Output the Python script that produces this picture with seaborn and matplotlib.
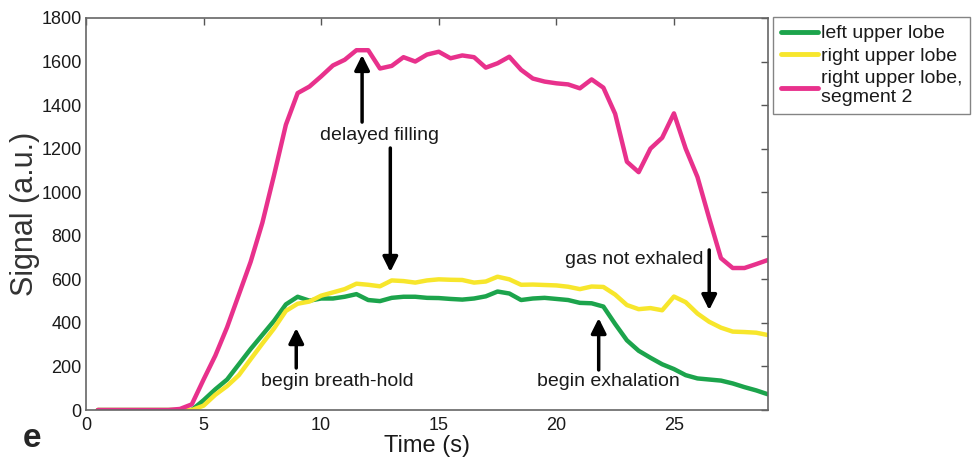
import matplotlib
matplotlib.use("Agg")
import matplotlib.pyplot as plt
import numpy as np
import pandas as pd
import seaborn as sns

# time axis (s)
time_s = [0.5, 1.0, 1.5, 2.0, 2.5, 3.0, 3.5, 4.0, 4.5, 5.0,
          5.5, 6.0, 6.5, 7.0, 7.5, 8.0, 8.5, 9.0, 9.5, 10.0,
          10.5, 11.0, 11.5, 12.0, 12.5, 13.0, 13.5, 14.0, 14.5, 15.0,
          15.5, 16.0, 16.5, 17.0, 17.5, 18.0, 18.5, 19.0, 19.5, 20.0,
          20.5, 21.0, 21.5, 22.0, 22.5, 23.0, 23.5, 24.0, 24.5, 25.0,
          25.5, 26.0, 26.5, 27.0, 27.5, 28.0, 28.5, 29.0]

left_upper = [0, 0, 0, 0, 0, 0, 0, 0, 0, 45,
              95, 140, 210, 280, 345, 410, 485, 520, 502, 512,
              512, 520, 532, 505, 500, 515, 520, 520, 515, 514,
              510, 507, 512, 522, 544, 535, 505, 512, 515, 510,
              505, 492, 490, 475, 395, 320, 272, 240, 210, 188,
              160, 145, 140, 135, 122, 105, 90, 72]

right_upper = [0, 0, 0, 0, 0, 0, 0, 0, 0, 20,
               70, 110, 160, 233, 305, 375, 455, 488, 498, 525,
               540, 555, 580, 575, 568, 595, 592, 585, 595, 600,
               598, 597, 585, 590, 612, 600, 575, 576, 574, 572,
               566, 555, 567, 565, 530, 482, 463, 468, 458, 521,
               495, 443, 405, 378, 360, 358, 355, 344]

right_upper_seg2 = [0, 0, 0, 0, 0, 0, 0, 5, 26, 140,
                    250, 380, 530, 680, 860, 1080, 1310, 1455, 1485, 1532,
                    1582, 1608, 1652, 1652, 1568, 1580, 1620, 1600, 1632, 1645,
                    1615, 1628, 1620, 1572, 1592, 1622, 1562, 1522, 1508, 1500,
                    1495, 1477, 1518, 1480, 1360, 1140, 1092, 1200, 1250, 1362,
                    1200, 1070, 880, 697, 652, 652, 670, 689]

series_names = ["left upper lobe", "right upper lobe", "right upper lobe,\nsegment 2"]
colors = ["#1ca44c", "#f7e62c", "#e8318c"]

df = pd.DataFrame({
    "time": time_s * 3,
    "signal": left_upper + right_upper + right_upper_seg2,
    "region": np.repeat(series_names, len(time_s)),
})

sns.set_style("white")
plt.rcParams["font.family"] = ["Liberation Sans", "DejaVu Sans"]

fig = plt.figure(figsize=(9.75, 4.61), dpi=100)
ax = fig.add_axes([0.0882, 0.1106, 0.6995, 0.8504])

sns.lineplot(data=df, x="time", y="signal", hue="region", hue_order=series_names,
             palette=colors, linewidth=3.2, ax=ax, legend=False)

ax.set_xlim(0, 29)
ax.set_ylim(0, 1800)
ax.set_xticks([0, 5, 10, 15, 20, 25])
ax.set_yticks(range(0, 1801, 200))
ax.tick_params(direction="in", top=True, right=True, length=5, width=1,
               labelsize=13, colors="#555555", labelcolor="#1a1a1a")
ax.tick_params(axis="x", pad=5)
ax.tick_params(axis="y", pad=3)
for sp in ax.spines.values():
    sp.set_color("#666666")
    sp.set_linewidth(1.2)
ax.set_xlabel("Time (s)", fontsize=17, color="#1a1a1a", labelpad=1)
ax.set_ylabel("Signal (a.u.)", fontsize=22, color="#333333", labelpad=1)

arrow = dict(arrowstyle="-|>,head_width=0.45,head_length=0.9", color="black", lw=2.5,
             shrinkA=0, shrinkB=0)
txt = dict(ha="center", va="center", fontsize=14, color="#1a1a1a")
# delayed filling
ax.text(12.5, 1262, "delayed filling", **txt)
ax.annotate("", xy=(11.74, 1630), xytext=(11.74, 1322), arrowprops=arrow)
ax.annotate("", xy=(12.94, 634), xytext=(12.94, 1203), arrowprops=arrow)
# begin breath-hold
ax.text(10.7, 129, "begin breath-hold", **txt)
ax.annotate("", xy=(8.94, 376), xytext=(8.94, 193), arrowprops=arrow)
# begin exhalation
ax.text(22.2, 129, "begin exhalation", **txt)
ax.annotate("", xy=(21.8, 422), xytext=(21.8, 184), arrowprops=arrow)
# gas not exhaled
ax.text(23.3, 693, "gas not exhaled", **txt)
ax.annotate("", xy=(26.5, 459), xytext=(26.5, 735), arrowprops=arrow)

handles = [plt.Line2D([], [], color=c, lw=3.5) for c in colors]
leg = fig.legend(handles, series_names, loc="upper left",
                 bbox_to_anchor=(773 / 975, 1 - 17 / 461), fontsize=14,
                 frameon=True, fancybox=False, handlelength=1.9, handletextpad=0.15,
                 borderpad=0.4, labelspacing=0.25, borderaxespad=0)
leg.get_frame().set_edgecolor("#666666")
leg.get_frame().set_linewidth(1.0)
for t in leg.get_texts():
    t.set_color("#1a1a1a")

fig.text(32 / 975, 1 - 438 / 461, "e", fontsize=24, fontweight="bold", ha="center", va="center")

fig.savefig("out.png", dpi=100)
